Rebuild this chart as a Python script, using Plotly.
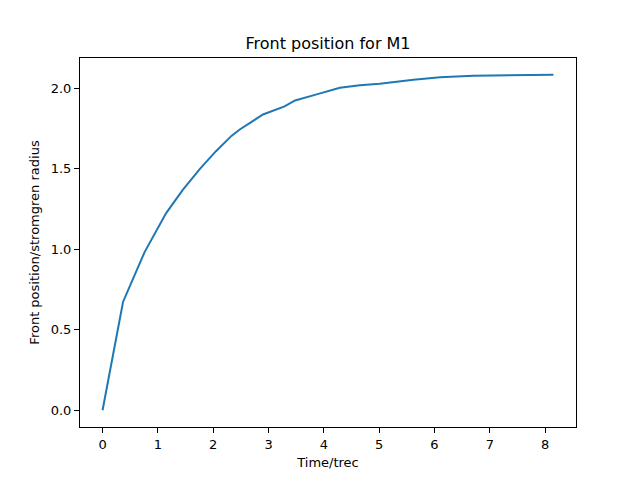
import plotly.graph_objects as go

# front position vs time
time_trec = [0.0, 0.37, 0.76, 1.15, 1.45, 1.76, 2.05, 2.33, 2.48, 2.90, 3.29, 3.48,
             3.87, 4.29, 4.65, 5.01, 5.62, 6.10, 6.70, 7.40, 8.15]
front_pos = [0.0, 0.673, 0.983, 1.225, 1.37, 1.50, 1.61, 1.705, 1.745, 1.838, 1.888, 1.925,
             1.963, 2.004, 2.019, 2.029, 2.054, 2.07, 2.079, 2.082, 2.085]
xticks = [0, 1, 2, 3, 4, 5, 6, 7, 8]
yticks = [0.0, 0.5, 1.0, 1.5, 2.0]

fig = go.Figure()
fig.add_trace(go.Scatter(x=time_trec, y=front_pos, mode='lines',
                         line=dict(color='#1f77b4', width=2)))

axis_style = dict(showgrid=False, zeroline=False, showline=True, linecolor='black',
                  linewidth=1, mirror=True, ticks='outside', ticklen=5, tickwidth=1,
                  tickcolor='black', tickfont=dict(size=13, color='black'))

fig.update_xaxes(range=[-0.4075, 8.5575], tickvals=xticks,
                 title=dict(text='Time/trec', font=dict(size=13, color='black'), standoff=7),
                 **axis_style)
fig.update_yaxes(range=[-0.104, 2.189], tickvals=yticks, ticktext=['%.1f' % v for v in yticks],
                 title=dict(text='Front position/stromgren radius',
                            font=dict(size=13, color='black'), standoff=8),
                 **axis_style)

# page body has an 8px margin, so the figure is a bit smaller and shifted
fig.update_layout(width=632, height=472, showlegend=False,
                  font=dict(family='DejaVu Sans', color='black'),
                  title=dict(text='Front position for M1', x=(80 + 576) / 2 / 632 - 8 / 632,
                             xanchor='center', y=1 - 35 / 472, yanchor='middle',
                             font=dict(size=16, color='black')),
                  margin=dict(l=72, r=64, t=50, b=53),
                  plot_bgcolor='white', paper_bgcolor='white')

fig.write_html("out.html", config={'displayModeBar': False})
